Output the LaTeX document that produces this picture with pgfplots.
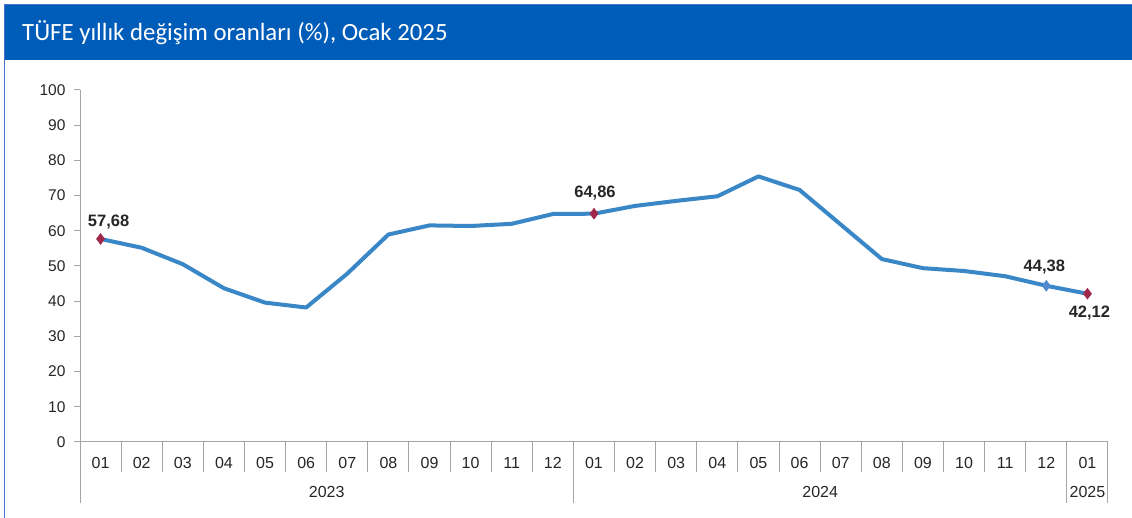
\documentclass[border=0pt]{standalone}
\usepackage{fontspec}
\setmainfont{Liberation Sans}
\newfontfamily\titlefont{Carlito}
\usepackage{pgfplots}
\pgfplotsset{compat=1.18}
\definecolor{barblue}{RGB}{0,92,185}
\definecolor{edgeblue}{RGB}{70,115,200}
\definecolor{lineblue}{RGB}{57,135,199}
\definecolor{mk}{RGB}{160,40,75}
\definecolor{mkblue}{RGB}{80,140,205}
\definecolor{axgray}{RGB}{165,165,165}
\definecolor{txt}{RGB}{38,38,38}
\pgfplotstableread{
x y
0 57.68
1 55.18
2 50.51
3 43.68
4 39.59
5 38.21
6 47.83
7 58.94
8 61.53
9 61.36
10 61.98
11 64.77
12 64.86
13 67.07
14 68.50
15 69.80
16 75.45
17 71.60
18 61.78
19 51.97
20 49.38
21 48.58
22 47.09
23 44.38
24 42.12
}\tufe
\begin{document}
\begin{tikzpicture}[x=1pt,y=1pt]
\useasboundingbox (0,0) rectangle (1132,518);
\fill[white] (0,0) rectangle (1132,518);
\fill[barblue] (5,458) rectangle (1132,513);
\draw[edgeblue, line width=1.5pt] (4.5,0) -- (4.5,513.5) -- (1132,513.5);
\node[anchor=west, text=white, font=\titlefont\fontsize{24.8}{28}\selectfont, inner sep=0pt] at (22,485) {TÜFE yıllık değişim oranları (\%), Ocak 2025};
\begin{axis}[
  at={(80pt,76pt)}, anchor=south west,
  scale only axis, width=1028pt, height=352pt,
  xmin=-0.5, xmax=24.5, ymin=0, ymax=100,
  axis lines*=left,
  axis line style={draw=axgray, line width=1pt, -},
  ytick={0,10,...,100},
  xtick={0,...,24},
  xticklabels={01,02,03,04,05,06,07,08,09,10,11,12,01,02,03,04,05,06,07,08,09,10,11,12,01},
  tick align=outside,
  major tick length=6pt,
  y tick style={draw=axgray, line width=1pt},
  x tick style={draw=none},
  /pgf/number format/assume math mode=true,
  yticklabel style={font=\fontsize{15.5}{18}\selectfont, text=txt, xshift=-5pt},
  xticklabel style={font=\fontsize{16}{19}\selectfont, text=txt, anchor=center, yshift=-15pt},
  clip=false,
]
\pgfplotsinvokeforeach{0.5,1.5,...,23.5}{
  \draw[axgray, line width=1pt] (axis cs:#1,0) -- ++(0pt,-30pt);
}
\draw[axgray, line width=1pt] (axis cs:-0.5,0) -- ++(0pt,-61pt);
\draw[axgray, line width=1pt] (axis cs:11.5,0) -- ++(0pt,-61pt);
\draw[axgray, line width=1pt] (axis cs:23.5,0) -- ++(0pt,-61pt);
\draw[axgray, line width=1pt] (axis cs:24.5,0) -- ++(0pt,-61pt);
\node[text=txt, font=\fontsize{16}{19}\selectfont, yshift=-50pt] at (axis cs:5.5,0) {2023};
\node[text=txt, font=\fontsize{16}{19}\selectfont, yshift=-50pt] at (axis cs:17.5,0) {2024};
\node[text=txt, font=\fontsize{16}{19}\selectfont, yshift=-50pt] at (axis cs:24,0) {2025};
\addplot[lineblue, line width=4pt, line join=round, mark=none] table[x=x,y=y] {\tufe};
\addplot[only marks, mark=diamond*, mark size=5.5pt, mark options={fill=mkblue, draw=mkblue}] coordinates {(23,44.38)};
\addplot[only marks, mark=diamond*, mark size=5.5pt, mark options={fill=mk, draw=mk}] coordinates {(0,57.68) (12,64.86) (24,42.12)};
\node[text=txt, font=\bfseries\fontsize{16.5}{19}\selectfont, xshift=8pt, yshift=17pt] at (axis cs:0,57.68) {57,68};
\node[text=txt, font=\bfseries\fontsize{16.5}{19}\selectfont, xshift=1pt, yshift=21pt] at (axis cs:12,64.86) {64,86};
\node[text=txt, font=\bfseries\fontsize{16.5}{19}\selectfont, xshift=-2pt, yshift=19pt] at (axis cs:23,44.38) {44,38};
\node[text=txt, font=\bfseries\fontsize{16.5}{19}\selectfont, xshift=2pt, yshift=-19pt] at (axis cs:24,42.12) {42,12};
\end{axis}
\end{tikzpicture}
\end{document}
